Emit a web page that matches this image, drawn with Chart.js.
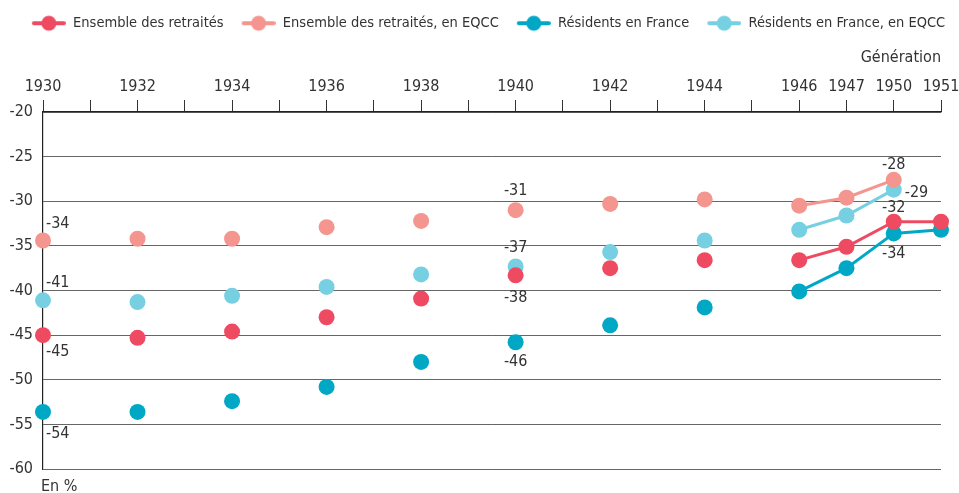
<!DOCTYPE html>
<html>
<head>
<meta charset="utf-8">
<script src="https://cdn.jsdelivr.net/npm/chart.js@4"></script>
<style>
  html, body { margin: 0; padding: 0; background: #fff; }
  #wrap { width: 959px; height: 493px; position: relative; }
</style>
</head>
<body>
<div id="wrap"><canvas id="c" width="959" height="493"></canvas></div>
<script>
// ---- Data ----
const categories = ['1930','1931','1932','1933','1934','1935','1936','1937','1938','1939','1940','1941','1942','1943','1944','1945','1946','1947','1950','1951'];
const shownTickLabels = ['1930','1932','1934','1936','1938','1940','1942','1944','1946','1947','1950','1951'];
const yTicks = [-20, -25, -30, -35, -40, -45, -50, -55, -60];

const ensembleRetraites = [-45.0, null, -45.3, null, -44.6, null, -43.0, null, -40.9, null, -38.3, null, -37.5, null, -36.6, null, -36.6, -35.1, -32.3, -32.3];
const ensembleEQCC      = [-34.4, null, -34.2, null, -34.2, null, -32.9, null, -32.2, null, -31.0, null, -30.3, null, -29.8, null, -30.5, -29.6, -27.6, null];
const residents         = [-53.6, null, -53.6, null, -52.4, null, -50.8, null, -48.0, null, -45.8, null, -43.9, null, -41.9, null, -40.1, -37.5, -33.6, -33.2];
const residentsEQCC     = [-41.1, null, -41.3, null, -40.6, null, -39.6, null, -38.2, null, -37.3, null, -35.7, null, -34.4, null, -33.2, -31.6, -28.7, null];

const seriesNames = ['Ensemble des retraités', 'Ensemble des retraités, en EQCC', 'Résidents en France', 'Résidents en France, en EQCC'];
const seriesColors = ['#EE4B62', '#F4958F', '#00A8C6', '#76D0E1'];

// ---- Style ----
const FONT = "'Liberation Sans Narrow', 'DejaVu Sans Condensed', 'Arial Narrow', sans-serif";
const TEXT = '#333333';

// value labels: [datasetIndex, category, dx, dy, align]
const valueLabels = [
  [1, '1930', 3, -17, 'left'], [3, '1930', 3, -17, 'left'], [0, '1930', 3, 17, 'left'], [2, '1930', 3, 22, 'left'],
  [1, '1940', 0, -19, 'center'], [3, '1940', 0, -19, 'center'], [0, '1940', 0, 23, 'center'], [2, '1940', 0, 20, 'center'],
  [1, '1950', 0, -15, 'center'], [3, '1950', 11, 3, 'left'], [0, '1950', 0, -14, 'center'], [2, '1950', 0, 20, 'center']
];

const MARK_W = 42, MARK_GAP = 8;
function legendMarker(color) {
  const cv = document.createElement('canvas');
  cv.width = MARK_W; cv.height = 18;
  const g = cv.getContext('2d');
  g.strokeStyle = color; g.lineWidth = 4; g.lineCap = 'round';
  g.beginPath(); g.moveTo(MARK_GAP + 2, 9); g.lineTo(MARK_W - 2, 9); g.stroke();
  g.fillStyle = color;
  g.beginPath(); g.arc(MARK_GAP + (MARK_W - MARK_GAP) / 2, 9, 7.5, 0, Math.PI * 2); g.fill();
  return cv;
}

const dataArrays = [ensembleRetraites, ensembleEQCC, residents, residentsEQCC];
const datasets = dataArrays.map((arr, i) => ({
  label: seriesNames[i],
  data: arr,
  borderColor: seriesColors[i],
  backgroundColor: seriesColors[i],
  pointBackgroundColor: seriesColors[i],
  pointBorderWidth: 0,
  pointRadius: 8,
  pointHoverRadius: 8,
  borderWidth: 3,
  spanGaps: false,
  clip: false,
  tension: 0,
  pointStyle: 'circle'
}));

const PAD_TOP = 6, CHART_TOP = 112, CHART_LEFT = 43, RIGHT_GAP = 18;
const TICK_FONT = 16;

const extraText = {
  id: 'extraText',
  afterDatasetsDraw(chart) {
    const ctx = chart.ctx;
    ctx.save();
    ctx.font = TICK_FONT + 'px ' + FONT;
    ctx.fillStyle = TEXT;
    ctx.textBaseline = 'middle';
    valueLabels.forEach(([ds, cat, dx, dy, align]) => {
      const idx = categories.indexOf(cat);
      const pt = chart.getDatasetMeta(ds).data[idx];
      const v = dataArrays[ds][idx];
      if (!pt || v === null) return;
      ctx.textAlign = align;
      ctx.fillText(String(Math.round(v)), pt.x + dx, pt.y + dy);
    });
    ctx.textAlign = 'left';
    ctx.textBaseline = 'alphabetic';
    ctx.fillText('En %', chart.chartArea.left - 2, 491);
    ctx.restore();
  }
};

new Chart(document.getElementById('c'), {
  type: 'line',
  data: { labels: categories, datasets },
  plugins: [extraText],
  options: {
    responsive: false,
    animation: false,
    events: [],
    layout: { padding: { top: PAD_TOP, right: 0, bottom: 24, left: 10 } },
    plugins: {
      tooltip: { enabled: false },
      legend: {
        display: true,
        position: 'top',
        labels: {
          font: { family: FONT, size: 14.5 },
          color: TEXT,
          usePointStyle: true,
          pointStyleWidth: MARK_W,
          padding: 10,
          generateLabels(chart) {
            return chart.data.datasets.map((d, i) => ({
              text: d.label,
              fillStyle: d.borderColor,
              strokeStyle: d.borderColor,
              lineWidth: 0,
              pointStyle: legendMarker(d.borderColor),
              fontColor: TEXT,
              datasetIndex: i,
              hidden: false
            }));
          }
        }
      }
    },
    scales: {
      x: {
        position: 'top',
        offset: false,
        border: { display: true, color: '#222', width: 1.2 },
        grid: { drawOnChartArea: false, drawTicks: true, tickLength: 12, color: '#333', offset: false },
        ticks: {
          autoSkip: false, maxRotation: 0, minRotation: 0,
          font: { family: FONT, size: TICK_FONT }, color: TEXT, padding: 4,
          callback(val, idx) { const l = categories[idx]; return shownTickLabels.includes(l) ? l : ''; }
        },
        title: { display: true, text: 'Génération', align: 'end', color: TEXT, font: { family: FONT, size: TICK_FONT }, padding: { top: 8, bottom: 0 } },
        afterFit(scale) {
          scale.height = CHART_TOP - PAD_TOP - scale.chart.legend.height;
          scale.paddingLeft = 0; scale.paddingRight = RIGHT_GAP;
        }
      },
      y: {
        min: -60, max: -20,
        border: { display: true, color: '#222', width: 1.2 },
        grid: { drawTicks: false, color: '#666', lineWidth: 1 },
        afterBuildTicks(scale) { scale.ticks = yTicks.map(v => ({ value: v })); },
        ticks: { font: { family: FONT, size: TICK_FONT }, color: TEXT, padding: 10 },
        afterFit(scale) { scale.width = CHART_LEFT - 10; }
      }
    }
  }
});
</script>
</body>
</html>
